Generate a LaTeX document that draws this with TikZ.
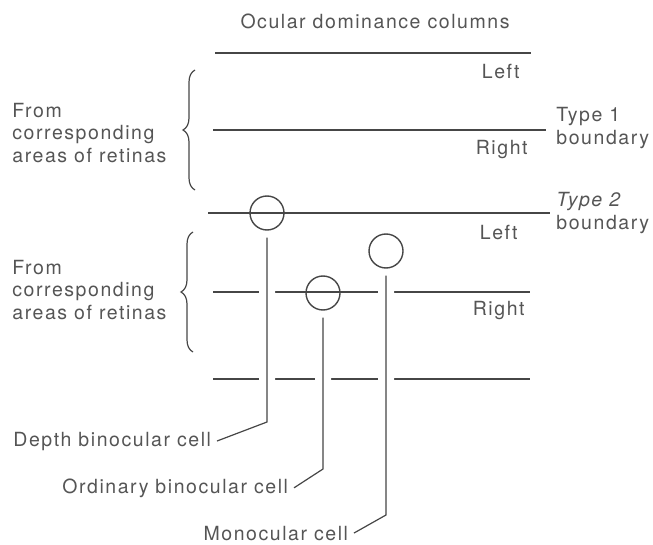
\documentclass[tikz,border=0pt]{standalone}
\usepackage{fontspec}
\setmainfont{TeX Gyre Heros}[LetterSpace=8]
\usetikzlibrary{decorations.pathreplacing}
\definecolor{ink}{HTML}{464646}
\definecolor{txt}{HTML}{555555}
\tikzset{
	lbl/.style={text=txt, inner sep=0pt, font=\fontsize{9.75}{11.25}\selectfont},
	tag/.style={lbl, outer sep=3pt},
	col/.style={draw=ink, line width=0.65pt},
	cell/.style={circle, draw=ink, line width=0.7pt, minimum size=17pt, inner sep=0pt},
	wire/.style={draw=ink, line width=0.6pt, preaction={draw=white, line width=8pt}},
	curly/.style={draw=ink, line width=0.6pt, decorate, decoration={brace, amplitude=6pt}},
}
\begin{document}
\begin{tikzpicture}[x=0.5pt, y=-0.5pt]
		\useasboundingbox (0,0) rectangle (653,545);
		\node[lbl, anchor=base] (title) at (375,29) {Ocular dominance columns};
		% column boundaries
		\foreach \y/\a/\b in {53/215/531, 130/213/546, 292/213/530, 379/213/530} {
			\draw[col] (\a,\y) -- (\b,\y);
		};
		\draw[col, line width=1.25pt] (208,213) -- (550,213);
		\node[lbl, anchor=base east] (left1) at (520,79) {Left};
		\node[lbl, anchor=base east] (right1) at (528,155) {Right};
		\node[lbl, anchor=base east] (left2) at (518,240) {Left};
		\node[lbl, anchor=base east] (right2) at (525,315) {Right};
		\node[lbl, anchor=west, align=left] (type1) at (556,128) {Type 1\\boundary};
		\node[lbl, anchor=west, align=left] (type2) at (556,213) {\itshape Type 2\\boundary};
		% inputs
		\draw[curly] (195,190) -- (195,70);
		\draw[curly] (193,352) -- (193,232);
		\node[lbl, anchor=west, align=left] (from1) at (12,133) {From\\corresponding\\areas of retinas};
		\node[lbl, anchor=west, align=left] (from2) at (12,290) {From\\corresponding\\areas of retinas};
		% cells
		\node[cell] (dcell) at (267,213) {};
		\node[cell] (ocell) at (323,293) {};
		\node[cell] (mcell) at (386,251) {};
		\node[tag, anchor=base east] (dlbl) at (217,446) {Depth binocular cell};
		\node[tag, anchor=base east] (olbl) at (294,493) {Ordinary binocular cell};
		\node[tag, anchor=base east] (mlbl) at (354,540) {Monocular cell};
		\coordinate (dbend) at (267,422);
		\coordinate (obend) at (323,469);
		\coordinate (mbend) at (386,515);
		\draw[wire] ([yshift=-3.5pt]dcell.south) -- (dbend) -- (dlbl.east);
		\draw[wire] ([yshift=-3.5pt]ocell.south) -- (obend) -- (olbl.east);
		\draw[wire] ([yshift=-3.5pt]mcell.south) -- (mbend) -- (mlbl.east);
	\end{tikzpicture}
\end{document}
